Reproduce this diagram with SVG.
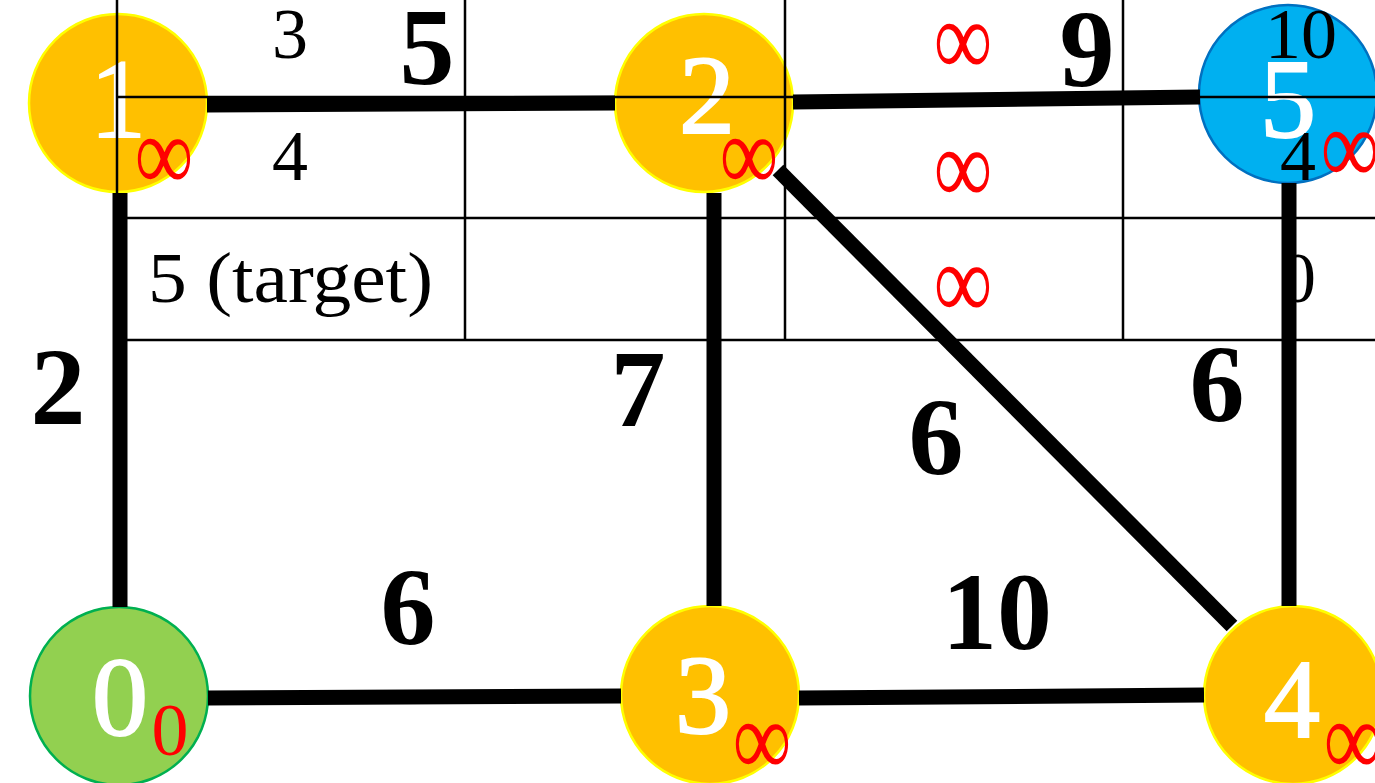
<svg xmlns="http://www.w3.org/2000/svg" width="1375" height="783" viewBox="0 0 1375 783">
<style>
.orange{fill:#FFC000;stroke:#FFFF00;stroke-width:2.5}
.blue{fill:#00B0F0;stroke:#0070C0;stroke-width:2.5}
.green{fill:#92D050;stroke:#00B050;stroke-width:2.5}
.nl{font-family:"Liberation Serif",serif;font-size:112px;fill:#fff;stroke:#fff;stroke-width:2;text-anchor:middle}
.dist{font-family:"Liberation Serif",serif;font-size:82px;fill:#f00;text-anchor:middle}
.tl{stroke:#000;stroke-width:2.5}
.tt{font-family:"Liberation Serif",serif;font-size:72px;fill:#000;text-anchor:middle}
.edge{stroke:#000;stroke-width:15;fill:none}
.w{font-family:"Liberation Serif",serif;font-size:110px;font-weight:bold;fill:#000;text-anchor:middle}
</style>
<rect width="1375" height="783" fill="#fff"/>
<g id="node1"><circle class="orange" cx="118" cy="103" r="89"/><text class="nl" x="118" y="137">1</text><text class="dist" transform="matrix(1 0 0 1.3 164 190)">∞</text></g>
<g id="node2"><circle class="orange" cx="704" cy="103" r="89"/><text class="nl" x="707" y="133">2</text><text class="dist" transform="matrix(1 0 0 1.3 749 190)">∞</text></g>
<g id="node5"><circle class="blue" cx="1288" cy="94" r="89"/><text class="nl" x="1288" y="137">5</text><text class="dist" transform="matrix(1 0 0 1.3 1350 183)">∞</text></g>
<g id="node0"><circle class="green" cx="119" cy="696" r="89"/><text class="nl" x="120" y="735">0</text><text class="dist" x="170" y="755" style="font-size:74px">0</text></g>
<g id="node3"><circle class="orange" cx="710" cy="695" r="89"/><text class="nl" x="703" y="733">3</text><text class="dist" transform="matrix(1 0 0 1.3 762 775)">∞</text></g>
<g id="node4"><circle class="orange" cx="1293" cy="695" r="89"/><text class="nl" x="1292" y="737">4</text><text class="dist" transform="matrix(1 0 0 1.3 1353 775)">∞</text></g>
<g id="table">
<line class="tl" x1="117" y1="0" x2="117" y2="340"/>
<line class="tl" x1="465" y1="0" x2="465" y2="340"/>
<line class="tl" x1="785" y1="0" x2="785" y2="340"/>
<line class="tl" x1="1123" y1="0" x2="1123" y2="340"/>
<line class="tl" x1="117" y1="97" x2="1375" y2="97"/>
<line class="tl" x1="117" y1="218" x2="1375" y2="218"/>
<line class="tl" x1="117" y1="340" x2="1375" y2="340"/>
<text class="tt" x="290" y="58">3</text>
<text class="tt" x="290" y="180">4</text>
<text class="tt" x="148" y="302" style="text-anchor:start" textLength="285" lengthAdjust="spacingAndGlyphs">5 (target)</text>
<text class="dist" transform="matrix(1 0 0 1.3 963 75)">∞</text>
<text class="dist" transform="matrix(1 0 0 1.3 963 203)">∞</text>
<text class="dist" transform="matrix(1 0 0 1.3 963 318)">∞</text>
<text class="tt" x="1301" y="58">10</text>
<text class="tt" x="1298" y="180">4</text>
<text class="tt" x="1298" y="302">0</text>
</g>
<g id="edges">
<line class="edge" x1="207" y1="105" x2="615" y2="103"/>
<line class="edge" x1="793" y1="102" x2="1200" y2="97"/>
<line class="edge" x1="120" y1="193" x2="120" y2="607"/>
<line class="edge" x1="714" y1="193" x2="714" y2="606"/>
<line class="edge" x1="1289" y1="183" x2="1289" y2="606"/>
<line class="edge" x1="778" y1="170" x2="1232" y2="626"/>
<line class="edge" x1="208" y1="698" x2="621" y2="696"/>
<line class="edge" x1="799" y1="698" x2="1204" y2="695"/>
<text class="w" x="427" y="84">5</text>
<text class="w" x="1087" y="86">9</text>
<text class="w" x="58" y="424">2</text>
<text class="w" x="638" y="426">7</text>
<text class="w" x="936" y="474">6</text>
<text class="w" x="1217" y="421">6</text>
<text class="w" x="408" y="644">6</text>
<text class="w" x="997" y="649">10</text>
</g>
</svg>
